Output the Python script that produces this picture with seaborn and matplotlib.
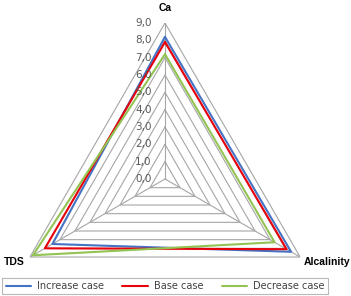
import numpy as np
import pandas as pd
import matplotlib
matplotlib.use('Agg')
import matplotlib.pyplot as plt
import seaborn as sns

# data
categories = ['Ca', 'Alcalinity', 'TDS']
cases = ['Increase case', 'Base case', 'Decrease case']
increase = [8.2, 8.4, 7.5]
base = [7.9, 8.1, 8.0]
decrease = [7.2, 7.3, 8.8]
ticks = list(range(0, 10))
colors = ['#4472C4', '#E8000B', '#92C353']

sns.set_style('white')
plt.rcParams['font.family'] = ['DejaVu Sans']

angles = list(np.arange(len(categories)) * 2 * np.pi / len(categories))
closed = angles + [angles[0]]

rows = []
for case, vals in zip(cases, [increase, base, decrease]):
    for a, v in zip(closed, vals + [vals[0]]):
        rows.append({'theta': a, 'value': v, 'case': case})
df = pd.DataFrame(rows)

W, H = 351, 296
cx, cy, R = 165, 179, 156
fig = plt.figure(figsize=(W / 100, H / 100), dpi=100)
ax = fig.add_axes([(cx - R) / W, (H - cy - R) / H, 2 * R / W, 2 * R / H], projection='polar')
ax.set_theta_zero_location('N')
ax.set_theta_direction(-1)
ax.set_ylim(0, 9)
ax.grid(False)
ax.spines['polar'].set_visible(False)
ax.patch.set_alpha(0)

# triangular grid and spokes
grid_c = '#A6A6A6'
for t in ticks:
    ax.plot(closed, [t] * len(closed), color=grid_c, lw=0.8, zorder=1)
for a in angles:
    ax.plot([a, a], [0, 9], color=grid_c, lw=0.8, zorder=1)

sns.lineplot(data=df, x='theta', y='value', hue='case', palette=colors,
             sort=False, estimator=None, lw=1.5, ax=ax, zorder=3)
ax.set_xticks([])
ax.set_yticks([])
ax.set_xlabel('')
ax.set_ylabel('')

for t in ticks:
    ax.annotate(f'{t:.1f}'.replace('.', ','), xy=(0, t), xytext=(-9.5, 0),
                textcoords='offset points', ha='right', va='center',
                fontsize=7.5, color='#595959', annotation_clip=False)

lab_font = dict(fontsize=7.5, fontweight='bold', color='black',
                family=['Liberation Sans', 'DejaVu Sans'])
ax.annotate('Ca', xy=(angles[0], 9), xytext=(0, 11), textcoords='offset points',
            ha='center', va='center', annotation_clip=False, **lab_font)
ax.annotate('Alcalinity', xy=(angles[1], 9), xytext=(2.5, -3.5), textcoords='offset points',
            ha='left', va='center', annotation_clip=False, **lab_font)
ax.annotate('TDS', xy=(angles[2], 9), xytext=(-3.5, -3.5), textcoords='offset points',
            ha='right', va='center', annotation_clip=False, **lab_font)

handles, labels = ax.get_legend_handles_labels()
ax.get_legend().remove()
leg = fig.legend(handles, labels, loc='center', bbox_to_anchor=(165 / W, 1 - 286 / H),
                 ncol=3, frameon=True, fancybox=False, edgecolor=grid_c, fontsize=7,
                 handlelength=2.6, columnspacing=1.9, handletextpad=0.6,
                 borderpad=0.35, labelcolor='#404040')
leg.get_frame().set_linewidth(0.8)

fig.savefig('out.png', dpi=100)
